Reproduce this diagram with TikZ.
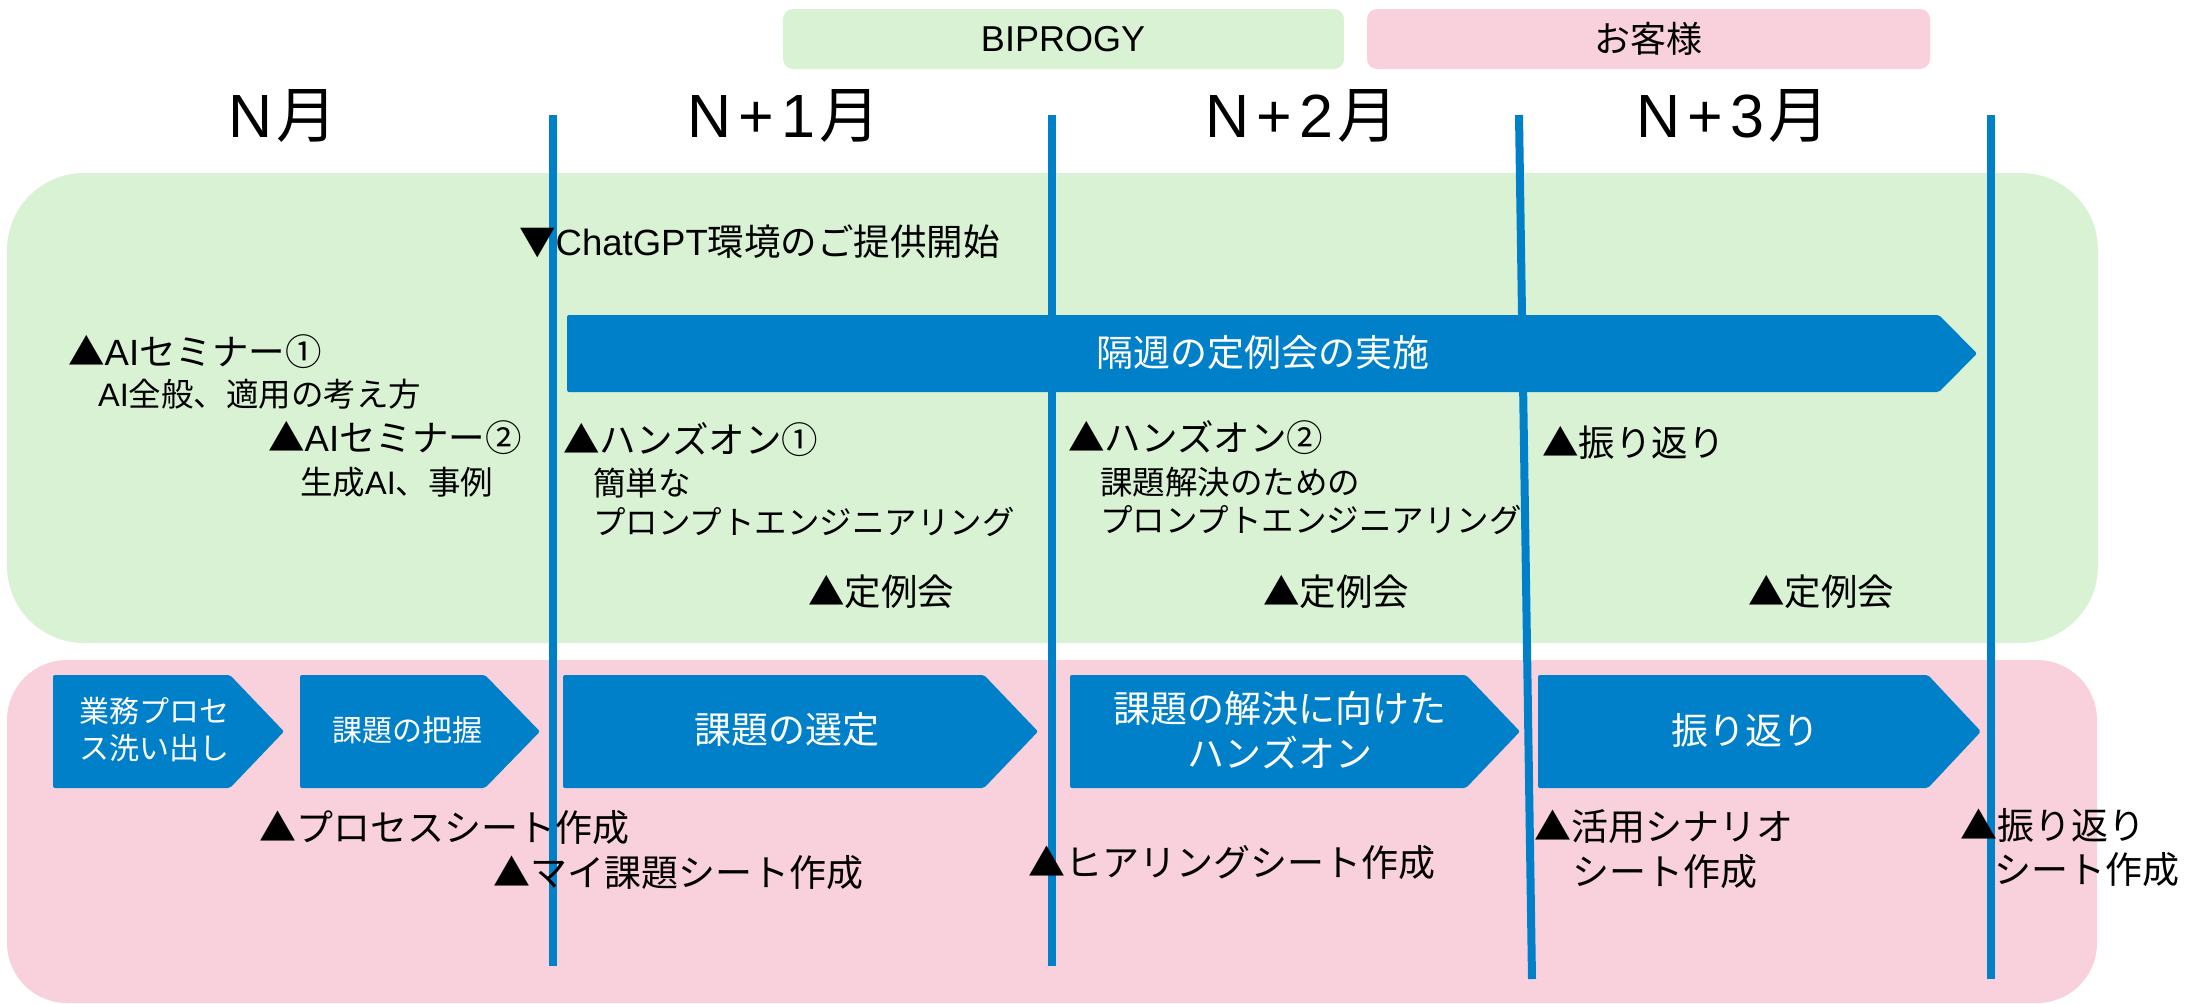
\documentclass[tikz,border=0pt]{standalone}
\usepackage{fontspec}
\setmainfont{Noto Sans CJK JP}
\newfontfamily\lsansfam{Liberation Sans}
\newcommand\lsans[1]{{\lsansfam #1}}
\newcommand\mk{\kern7pt}
\definecolor{lgreen}{HTML}{D9F2D4}
\definecolor{lpink}{HTML}{F9D1DC}
\definecolor{mblue}{HTML}{0080C9}
\begin{document}
\begin{tikzpicture}[x=1pt,y=-1pt,
  lbl/.style={anchor=west, inner sep=0pt, font=\fontsize{36.5}{44}\selectfont},
  sublbl/.style={anchor=west, inner sep=0pt, font=\fontsize{32.5}{40}\selectfont},
  lowlbl/.style={anchor=west, inner sep=0pt, font=\fontsize{37}{44}\selectfont},
  month/.style={inner sep=0pt, font=\fontsize{61}{70}\selectfont},
  head/.style={inner sep=0pt, font=\fontsize{36}{44}\selectfont},
  wbig/.style={inner sep=0pt, text=white, align=center, font=\fontsize{37}{45}\selectfont},
  wsmall/.style={inner sep=0pt, text=white, align=center, font=\fontsize{30}{37}\selectfont},
  vline/.style={draw=mblue, line width=8pt},
  chev/.style={fill=mblue, rounded corners=2pt}
]
\useasboundingbox (0,0) rectangle (2188,1004);
% background areas
\fill[lgreen, rounded corners=77pt] (7,173) rectangle (2098,643);
\fill[lpink, rounded corners=60pt] (7,660) rectangle (2097,1003);
% header boxes
\fill[lgreen, rounded corners=10pt] (783,9) rectangle (1344,69);
\fill[lpink, rounded corners=10pt] (1367,9) rectangle (1930,69);
\node[head] (hb) at (1063,39) {\lsans{BIPROGY}};
\node[head] (hc) at (1648,39) {お客様};
% month labels
\node[month] (m0) at (283,116) {\lsans{N}\kern4pt 月};
\node[month] (m1) at (784,116) {\lsans{N\mk+\mk1}\kern4pt 月};
\node[month] (m2) at (1302,116) {\lsans{N\mk+\mk2}\kern4pt 月};
\node[month] (m3) at (1733,116) {\lsans{N\mk+\mk3}\kern4pt 月};
% vertical month separators
\coordinate (v1t) at (553,115); \coordinate (v1b) at (553,966);
\coordinate (v2t) at (1052,115); \coordinate (v2b) at (1052,966);
\coordinate (v3t) at (1519,115); \coordinate (v3b) at (1532,979);
\coordinate (v4t) at (1991,115); \coordinate (v4b) at (1991,979);
\draw[vline] (v1t) -- (v1b);
\draw[vline] (v2t) -- (v2b);
\draw[vline] (v3t) -- (v3b);
\draw[vline] (v4t) -- (v4b);
% big arrow
\fill[chev] (567,315) -- (1939,315) -- (1977,353.5) -- (1939,392) -- (567,392) -- cycle;
\node[wbig] (arr) at (1263,353) {隔週の定例会の実施};
% chevrons
\fill[chev] (53,675) -- (230,675) -- (284,731.5) -- (230,788) -- (53,788) -- cycle;
\fill[chev] (300,675) -- (485,675) -- (540,731.5) -- (485,788) -- (300,788) -- cycle;
\fill[chev] (563,675) -- (984,675) -- (1038,731.5) -- (984,788) -- (563,788) -- cycle;
\fill[chev] (1070,675) -- (1466,675) -- (1520,731.5) -- (1466,788) -- (1070,788) -- cycle;
\fill[chev] (1538,675) -- (1928,675) -- (1981,731.5) -- (1928,788) -- (1538,788) -- cycle;
\node[wsmall] (c1) at (154,730) {業務プロセ\\ス洗い出し};
\node[wsmall] (c2) at (407,730) {課題の把握};
\node[wbig] (c3) at (787,730) {課題の選定};
\node[wbig] (c4) at (1280,730) {課題の解決に向けた\\ハンズオン};
\node[wbig] (c5) at (1745,730) {振り返り};
% upper labels
\node[lbl] (t1) at (519,242) {▼\lsans{ChatGPT}環境のご提供開始};
\node[lbl] (t2) at (68,352) {▲\lsans{AI}セミナー①};
\node[sublbl] (t3) at (98,394) {\lsans{AI}全般、適用の考え方};
\node[lbl] (t4) at (268,438) {▲\lsans{AI}セミナー②};
\node[sublbl] (t5) at (300,482) {生成\lsans{AI}、事例};
\node[lbl] (t6) at (563,440) {▲ハンズオン①};
\node[sublbl] (t7) at (593,483) {簡単な};
\node[sublbl] (t8) at (593,522) {プロンプトエンジニアリング};
\node[lbl] (t9) at (808,592) {▲定例会};
\node[lbl] (t10) at (1068,438) {▲ハンズオン②};
\node[sublbl] (t11) at (1100,482) {課題解決のための};
\node[sublbl] (t12) at (1100,520) {プロンプトエンジニアリング};
\node[lbl] (t13) at (1263,592) {▲定例会};
\node[lbl] (t14) at (1542,443) {▲振り返り};
\node[lbl] (t15) at (1748,592) {▲定例会};
% lower labels
\node[lowlbl] (b1) at (259,828) {▲プロセスシート作成};
\node[lowlbl] (b2) at (493,873) {▲マイ課題シート作成};
\node[lowlbl] (b3) at (1028,863) {▲ヒアリングシート作成};
\node[lowlbl] (b4) at (1534,827) {▲活用シナリオ};
\node[lowlbl] (b5) at (1572,872) {シート作成};
\node[lowlbl] (b6) at (1960,825) {▲振り返り};
\node[lowlbl] (b7) at (1994,870) {シート作成};
\end{tikzpicture}
\end{document}
